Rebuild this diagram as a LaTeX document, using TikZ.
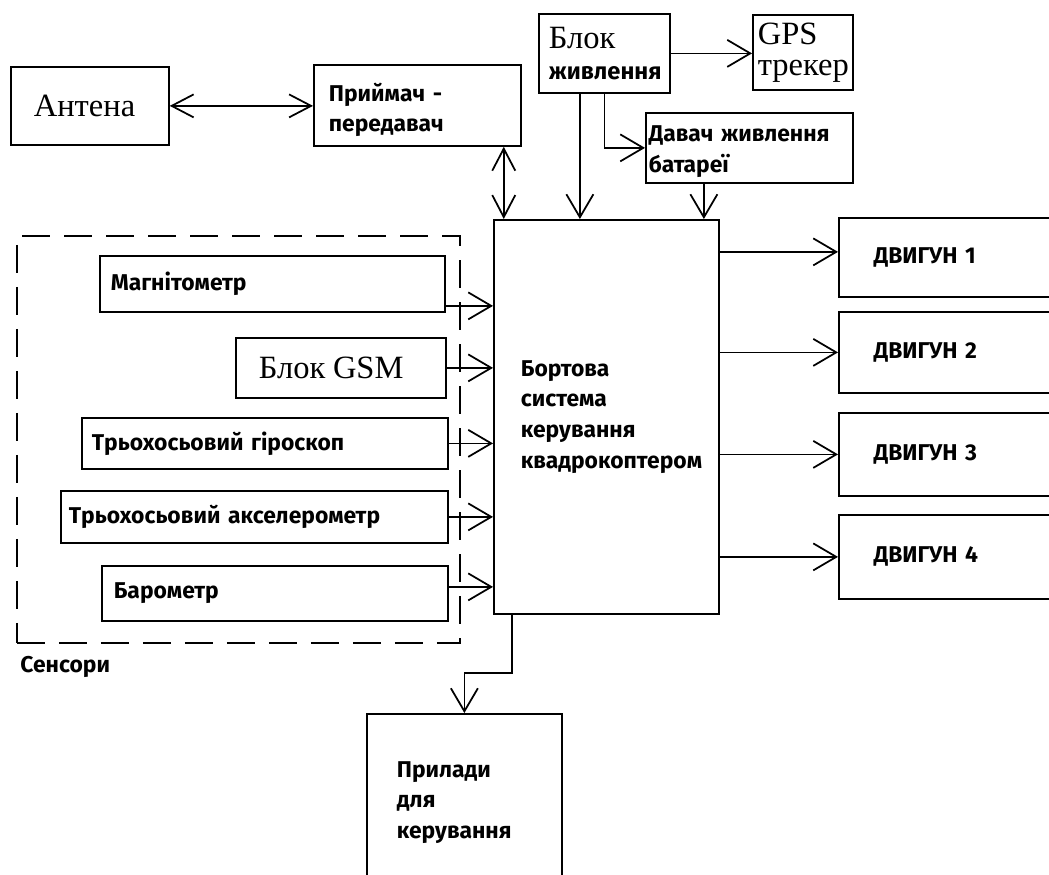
\documentclass[tikz,border=0pt]{standalone}
\usepackage{fontspec}
\setmainfont{Fira Sans}
\newfontfamily\tnr{Liberation Serif}
\usepackage{tikz}
\usetikzlibrary{arrows.meta}

\tikzset{
  blok/.style={draw, line width=1pt, anchor=north west, align=left, inner ysep=0pt},
  strilka/.style={line width=1pt, -{Straight Barb[length=4.6mm,width=5.4mm]}},
  dvi/.style={line width=1pt, {Straight Barb[length=4.4mm,width=4.6mm]}-{Straight Barb[length=4.4mm,width=4.6mm]}},
}

\begin{document}
\begin{tikzpicture}[x=0.2mm, y=-0.2mm, font=\bfseries\fontsize{13}{17.5}\selectfont]
      \useasboundingbox (0,0) rectangle (1049,874);
      \clip (0,0) rectangle (1049,874);

      % 1. Верхній ряд: антена, приймач, живлення, GPS
      \node[blok, minimum height=15.6mm, inner xsep=4.6mm, text width=22.4mm] (ant) at (10,66) {\tnr\mdseries\fontsize{18.5}{20}\selectfont Антена};
      \node[blok, minimum height=16.2mm, inner xsep=3mm, text width=35.4mm] (rx) at (313,64) {\rule{0pt}{5.5mm}Приймач -\\передавач};
      \node[blok, minimum height=15.8mm, inner xsep=2mm, text width=22.2mm] (psu) at (538,13) {{\tnr\mdseries\fontsize{18.5}{20}\selectfont Блок}\\\fontsize{13.5}{20}\selectfont живлення};
      \node[blok, minimum height=15mm, inner xsep=1mm, text width=18mm] (gps) at (752,14) {\tnr\mdseries\fontsize{18.5}{21}\selectfont GPS\\трекер};
      \node[blok, minimum height=14mm, inner xsep=0.6mm, text width=40.2mm] (bat) at (645,112) {\rule{0pt}{4.6mm}Давач живлення\\батареї};

      % 2. Бортова система та двигуни
      \node[blok, minimum height=78.8mm, inner xsep=5.4mm, text width=34.2mm] (fc) at (493,219) {Бортова\\система\\керування\\квадрокоптером};
      \node[blok, minimum height=15.8mm, inner xsep=7mm, text width=34mm] (m1) at (838,217) {ДВИГУН 1};
      \node[blok, minimum height=16.2mm, inner xsep=7mm, text width=34mm] (m2) at (838,311) {ДВИГУН 2};
      \node[blok, minimum height=16.6mm, inner xsep=7mm, text width=34mm] (m3) at (838,412) {ДВИГУН 3};
      \node[blok, minimum height=16.8mm, inner xsep=7mm, text width=34mm] (m4) at (838,514) {ДВИГУН 4};

      % 3. Сенсори
      \node[draw, line width=1pt, dash pattern=on 5.6mm off 2.8mm, anchor=north west, inner sep=0pt, minimum width=88.6mm, minimum height=81.4mm] (sens) at (16,235) {};
      \node[blok, minimum height=11.2mm, inner xsep=2.2mm, text width=64.6mm] (mag) at (99,255) {Магнітометр};
      \node[blok, minimum height=12mm, inner xsep=4.6mm, text width=32.8mm] (gsm) at (235,337) {\tnr\mdseries\fontsize{18.5}{20}\selectfont Блок GSM};
      \node[blok, minimum height=10.2mm, inner xsep=2mm, text width=69.2mm] (gyro) at (81,417) {Трьохосьовий гіроскоп};
      \node[blok, minimum height=10.4mm, inner xsep=1.6mm, text width=74.2mm] (acc) at (60,490) {Трьохосьовий акселерометр};
      \node[blok, minimum height=11mm, inner xsep=2.4mm, text width=64.4mm] (baro) at (101,565) {Барометр};
      \node[anchor=west, inner sep=0pt] (senslbl) at (20,667) {Сенсори};

      % 4. Прилади для керування
      \node[blok, minimum height=35.4mm, inner xsep=6mm, text width=27mm] (ctl) at (366,713) {Прилади\\для\\керування};

      % 5. Зв'язки
      \draw[dvi] (ant.east) -- (ant.east -| rx.west);
      \draw[dvi] ([xshift=-3.6mm]rx.south east) -- ([xshift=-3.6mm]rx.south east |- fc.north);
      \draw[strilka] (psu.east) -- (psu.east -| gps.west);
      \draw[strilka] (psu.south) |- (bat.west);
      \draw[strilka] ([xshift=-4.9mm]psu.south) -- ([xshift=-4.9mm]psu.south |- fc.north);
      \draw[strilka] ([xshift=-9.1mm]bat.south) -- ([xshift=-9.1mm]bat.south |- fc.north);

      \draw[strilka] ([yshift=-4.4mm]mag.east) -- ([yshift=-4.4mm]mag.east -| fc.west);
      \draw[strilka] (gsm.east) -- (gsm.east -| fc.west);
      \draw[strilka] (gyro.east) -- (gyro.east -| fc.west);
      \draw[strilka] (acc.east) -- (acc.east -| fc.west);
      \draw[strilka] ([yshift=1.3mm]baro.east) -- ([yshift=1.3mm]baro.east -| fc.west);

      \draw[strilka] ([yshift=1.1mm]m1.west -| fc.east) -- ([yshift=1.1mm]m1.west);
      \draw[strilka] (m2.west -| fc.east) -- (m2.west);
      \draw[strilka] (m3.west -| fc.east) -- (m3.west);
      \draw[strilka] (m4.west -| fc.east) -- (m4.west);

      \draw[strilka] ([xshift=3.8mm]fc.south west) -- ++(0,58) -| (ctl.north);
\end{tikzpicture}
\end{document}
